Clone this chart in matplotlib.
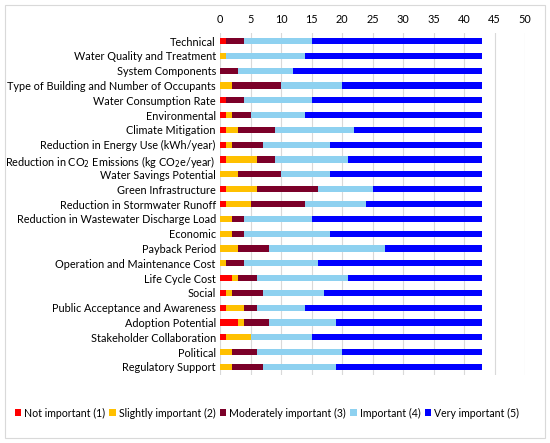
import matplotlib.pyplot as plt
from matplotlib.patches import Rectangle
import numpy as np

plt.rcParams['font.family'] = ['Lato', 'DejaVu Sans']

categories = [
    "Technical",
    "Water Quality and Treatment",
    "System Components",
    "Type of Building and Number of Occupants",
    "Water Consumption Rate",
    "Environmental",
    "Climate Mitigation",
    "Reduction in Energy Use (kWh/year)",
    "Reduction in CO$_2$ Emissions (kg CO$_2$e/year)",
    "Water Savings Potential",
    "Green Infrastructure",
    "Reduction in Stormwater Runoff",
    "Reduction in Wastewater Discharge Load",
    "Economic",
    "Payback Period",
    "Operation and Maintenance Cost",
    "Life Cycle Cost",
    "Social",
    "Public Acceptance and Awareness",
    "Adoption Potential",
    "Stakeholder Collaboration",
    "Political",
    "Regulatory Support",
]

not_important = [1, 0, 0, 0, 1, 1, 1, 1, 1, 0, 1, 1, 0, 0, 0, 0, 2, 1, 1, 3, 1, 0, 0]
slightly_important = [0, 1, 0, 2, 0, 1, 2, 1, 5, 3, 5, 4, 2, 2, 3, 1, 1, 1, 3, 1, 4, 2, 2]
moderately_important = [3, 0, 3, 8, 3, 3, 6, 5, 3, 7, 10, 9, 2, 2, 5, 3, 3, 5, 2, 4, 0, 4, 5]
important = [11, 13, 9, 10, 11, 9, 13, 11, 12, 8, 9, 10, 11, 14, 19, 12, 15, 10, 8, 11, 10, 14, 12]
very_important = [28, 29, 31, 23, 28, 29, 21, 25, 22, 25, 18, 19, 28, 25, 16, 27, 22, 26, 29, 24, 28, 23, 24]

series = [
    ("Not important (1)", not_important, "#FF0000"),
    ("Slightly important (2)", slightly_important, "#FFC000"),
    ("Moderately important (3)", moderately_important, "#7B0029"),
    ("Important (4)", important, "#8ED1F0"),
    ("Very important (5)", very_important, "#0000FF"),
]

fig = plt.figure(figsize=(5.5, 4.43), dpi=100)
ax = fig.add_axes([220 / 550, 1 - 375 / 443, 305 / 550, (375 - 33) / 443])

y = np.arange(len(categories))
left = np.zeros(len(categories))
for name, vals, color in series:
    ax.barh(y, vals, left=left, height=0.42, color=color, label=name, zorder=3)
    left += np.array(vals)

ax.set_xlim(0, 50)
ax.set_ylim(len(categories) - 0.46, -0.54)
ax.set_xticks(range(0, 51, 5))
ax.xaxis.tick_top()
ax.tick_params(axis='x', length=0, labelsize=7.8, pad=6)
ax.tick_params(axis='y', length=0, labelsize=7.8, pad=3)
ax.set_yticks(y)
ax.set_yticklabels(categories)
ax.grid(axis='x', color='#D9D9D9', linewidth=0.8, zorder=0)
for s in ax.spines.values():
    s.set_visible(False)

fig.legend(loc='center', bbox_to_anchor=(267 / 550, 1 - 413 / 443), ncol=5, frameon=False,
           fontsize=7.6, handlelength=0.6, handleheight=0.6, handletextpad=0.3,
           columnspacing=0.4)

fig.patches.append(Rectangle((5 / 550, 5 / 443), 540 / 550, 433 / 443, transform=fig.transFigure,
                             fill=False, edgecolor='#D9D9D9', linewidth=0.8))

fig.savefig("out.png", dpi=100)
